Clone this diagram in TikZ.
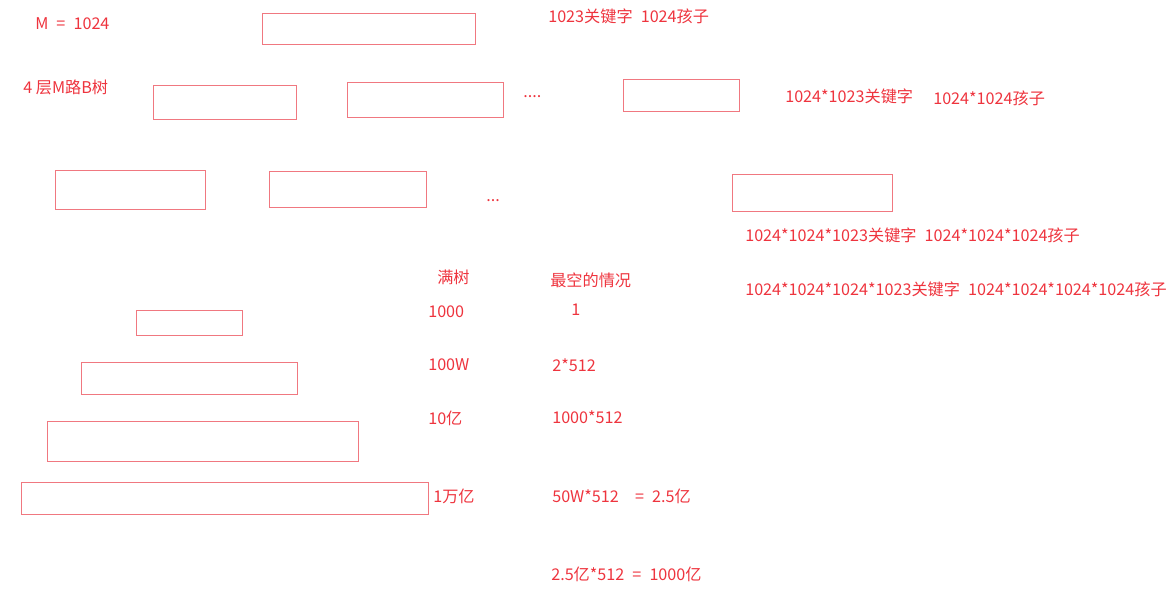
\documentclass[tikz,border=0pt]{standalone}
\usepackage{fontspec}
\setmainfont{Noto Sans CJK SC}
\usetikzlibrary{fit}
\definecolor{inkred}{RGB}{238,52,62}
\definecolor{boxred}{RGB}{240,120,128}
\begin{document}
\begin{tikzpicture}[x=0.025cm, y=-0.025cm,
        box/.style={draw=boxred, line width=0.6pt, inner sep=0pt},
        txt/.style={text=inkred, anchor=west, inner sep=0pt, font=\fontsize{11.5}{14}\selectfont}]
                \useasboundingbox (0,0) rectangle (1167,605);

                % the tree of M = 1024
                \node[txt] (m) at (35,24) {M\enspace=\enspace1024};
                \node[txt] (lvl) at (23,87) {4 层M路B树};

                \node[box, fit={(262,13) (475,44)}] (root) {};
                \node[txt] (rootk) at (548,16) {1023关键字\enspace 1024孩子};

                \node[box, fit={(153,85) (296,119)}] (a1) {};
                \node[box, fit={(347,82) (503,117)}] (a2) {};
                \node[txt] (adots) at (523,97) {....};
                \node[box, fit={(623,79) (739,111)}] (a3) {};
                \node[txt] (ak) at (785,96) {1024*1023关键字};
                \node[txt] (ac) at (933,98) {1024*1024孩子};

                \node[box, fit={(55,170) (205,209)}] (b1) {};
                \node[box, fit={(269,171) (426,207)}] (b2) {};
                \node[txt] (bdots) at (486,201) {...};
                \node[box, fit={(732,174) (892,211)}] (b3) {};
                \node[txt] (bk) at (745,235) {1024*1024*1023关键字\enspace 1024*1024*1024孩子};
                \node[txt] (ck) at (745,289) {1024*1024*1024*1023关键字\enspace 1024*1024*1024*1024孩子};

                % full tree vs emptiest case
                \node[txt] (full) at (437,277) {满树};
                \node[txt] (empty) at (550,280) {最空的情况};

                \node[box, fit={(136,310) (242,335)}] (l1) {};
                \node[box, fit={(81,362) (297,394)}] (l2) {};
                \node[box, fit={(47,421) (358,461)}] (l3) {};
                \node[box, fit={(21,482) (428,514)}] (l4) {};

                \node[txt] (f1) at (428,312) {1000};
                \node[txt] (f2) at (428,365) {100W};
                \node[txt] (f3) at (428,418) {10亿};
                \node[txt] (f4) at (433,496) {1万亿};

                \node[txt] (e1) at (571,310) {1};
                \node[txt] (e2) at (552,365) {2*512};
                \node[txt] (e3) at (552,417) {1000*512};
                \node[txt] (e4) at (552,496) {50W*512\quad=\enspace2.5亿};
                \node[txt] (e5) at (551,574) {2.5亿*512\enspace=\enspace1000亿};
            \end{tikzpicture}
\end{document}
